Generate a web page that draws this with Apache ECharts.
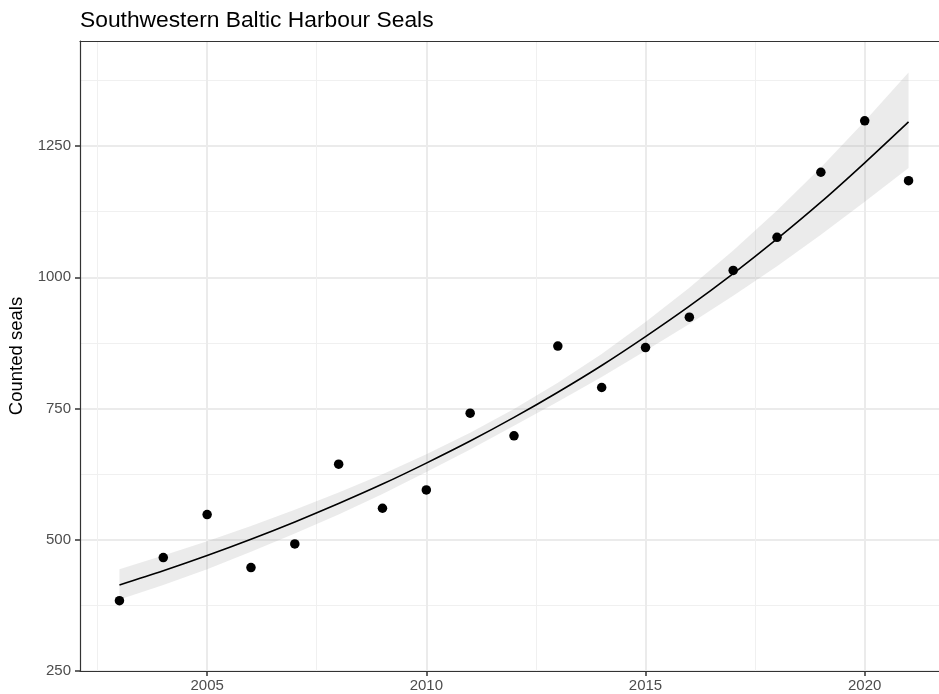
<!DOCTYPE html>
<html>
<head>
<meta charset="utf-8">
<title>Southwestern Baltic Harbour Seals</title>
<script src="https://cdn.jsdelivr.net/npm/echarts@6/dist/echarts.min.js"></script>
<style>
  html, body { margin: 0; padding: 0; background: #fff; overflow: hidden; }
  #chart { width: 939px; height: 694px; }
</style>
</head>
<body>
<div id="chart"></div>
<script>
// Survey years and counted seals
const years = [2003, 2004, 2005, 2006, 2007, 2008, 2009, 2010, 2011, 2012,
               2013, 2014, 2015, 2016, 2017, 2018, 2019, 2020, 2021];
const counts = [384, 466, 548, 447, 492, 644, 560, 595, 741, 698,
                869, 790, 866, 924, 1013, 1076, 1200, 1298, 1184];

// Fitted trend and its confidence band, per year
const fitted = [414, 441, 470, 501, 534, 569, 606, 646, 688, 733,
                781, 832, 887, 945, 1007, 1073, 1143, 1218, 1296];
const ciUpper = [444, 470, 497, 526, 557, 590, 625, 663, 704, 749,
                 799, 854, 915, 980, 1051, 1127, 1209, 1297, 1390];
const ciLower = [386, 414, 444, 477, 512, 548, 587, 629, 672, 717,
                 763, 810, 860, 911, 965, 1021, 1081, 1144, 1208];

// Axis ticks
const xTicks = [2005, 2010, 2015, 2020];
const xMinorTicks = [2002.5, 2007.5, 2012.5, 2017.5];
const yTicks = [250, 500, 750, 1000, 1250];
const yMinorTicks = [375, 625, 875, 1125, 1375];

const FONT = "'Liberation Sans', Arial, sans-serif";
const chart = echarts.init(document.getElementById('chart'), null, { renderer: 'canvas' });

const xRange = { min: 2002.1, max: 2021.9 };
const yRange = { min: 250, max: 1450 };

const majorLine = { show: true, lineStyle: { color: '#EBEBEB', width: 2 } };
const minorLine = { show: true, lineStyle: { color: '#F0F0F0', width: 1 } };
const frameLine = { show: true, onZero: false, lineStyle: { color: '#333333', width: 1.2 } };
const plain = v => String(v);

chart.setOption({
  animation: false,
  backgroundColor: '#ffffff',
  title: {
    text: 'Southwestern Baltic Harbour Seals',
    left: 75,
    top: 4,
    textStyle: { fontFamily: FONT, fontSize: 22.8, fontWeight: 'normal', color: '#000000' }
  },
  grid: {
    // the panel runs a little past the right edge of the canvas
    left: 80,
    top: 41,
    width: 868,
    height: 630,
    containLabel: false,
    outerBoundsMode: 'none',
    show: false
  },
  xAxis: [
    {
      type: 'value',
      min: xRange.min,
      max: xRange.max,
      position: 'bottom',
      axisLine: frameLine,
      axisTick: { show: true, customValues: xTicks, length: 5, lineStyle: { color: '#333333', width: 1.5 } },
      axisLabel: { show: true, customValues: xTicks, formatter: plain, margin: 7,
                   color: '#4D4D4D', fontSize: 15, fontFamily: FONT },
      splitLine: majorLine
    },
    {
      type: 'value',
      min: xRange.min,
      max: xRange.max,
      position: 'top',
      axisLine: frameLine,
      axisTick: { show: false, customValues: xMinorTicks },
      axisLabel: { show: false, customValues: xMinorTicks },
      splitLine: minorLine
    }
  ],
  yAxis: [
    {
      type: 'value',
      min: yRange.min,
      max: yRange.max,
      position: 'left',
      name: 'Counted seals',
      nameLocation: 'middle',
      nameRotate: 90,
      nameGap: 50,
      nameTextStyle: { fontFamily: FONT, fontSize: 18.5, color: '#000000' },
      axisLine: frameLine,
      axisTick: { show: true, customValues: yTicks, length: 5, lineStyle: { color: '#333333', width: 1.5 } },
      axisLabel: { show: true, customValues: yTicks, formatter: plain, margin: 9,
                   color: '#4D4D4D', fontSize: 15, fontFamily: FONT },
      splitLine: majorLine
    },
    {
      type: 'value',
      min: yRange.min,
      max: yRange.max,
      position: 'right',
      axisLine: { show: false },
      axisTick: { show: false, customValues: yMinorTicks },
      axisLabel: { show: false, customValues: yMinorTicks },
      splitLine: minorLine
    }
  ],
  series: [
    {
      // confidence band as one polygon: upper edge forward, lower edge back
      type: 'custom',
      xAxisIndex: 0,
      yAxisIndex: 0,
      silent: true,
      data: [[years[0], fitted[0]]],
      renderItem: function (params, api) {
        const pts = [];
        for (let i = 0; i < years.length; i++) pts.push(api.coord([years[i], ciUpper[i]]));
        for (let i = years.length - 1; i >= 0; i--) pts.push(api.coord([years[i], ciLower[i]]));
        return {
          type: 'polygon',
          shape: { points: pts, smooth: 0 },
          style: { fill: 'rgba(153,153,153,0.2)', stroke: null }
        };
      },
      z: 1
    },
    {
      type: 'line',
      xAxisIndex: 0,
      yAxisIndex: 0,
      data: years.map((y, i) => [y, fitted[i]]),
      showSymbol: false,
      smooth: 0.3,
      lineStyle: { color: '#000000', width: 1.6 },
      silent: true,
      z: 2
    },
    {
      type: 'scatter',
      xAxisIndex: 0,
      yAxisIndex: 0,
      data: years.map((y, i) => [y, counts[i]]),
      symbol: 'circle',
      symbolSize: 9.5,
      itemStyle: { color: '#000000', opacity: 1 },
      silent: true,
      z: 3
    }
  ]
});
</script>
</body>
</html>
